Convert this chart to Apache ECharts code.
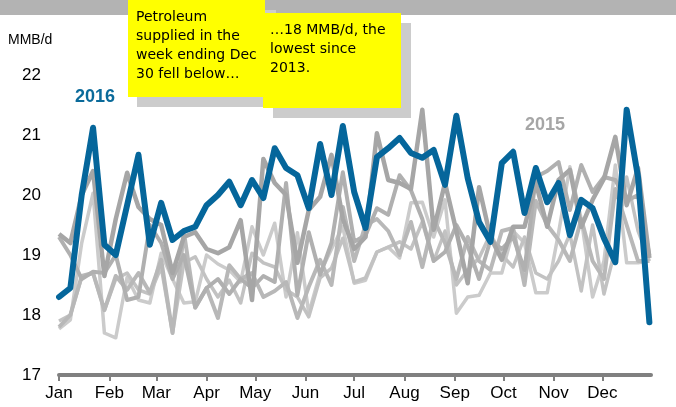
<!DOCTYPE html>
<html>
<head>
<meta charset="utf-8">
<script src="https://cdn.jsdelivr.net/npm/echarts@6/dist/echarts.min.js"></script>
<style>
html,body{margin:0;padding:0;background:#fff;}
#chart{width:676px;height:407px;}
</style>
</head>
<body>
<div id="chart"></div>
<script>
// Month tick labels and their first day-of-year
const monthNames = ['Jan','Feb','Mar','Apr','May','Jun','Jul','Aug','Sep','Oct','Nov','Dec'];
const monthStartDays = [0,31,60,91,121,152,182,213,244,274,305,335];
// weekly observations: day-of-year of each week-ending date (2016)
const weekDays = [0,7,14,21,28,35,42,49,56,63,70,77,84,91,98,105,112,119,126,133,140,147,154,161,168,175,182,189,196,203,210,217,224,231,238,245,252,259,266,273,280,287,294,301,308,315,322,329,336,343,350,357,364];

const y2016 = [18.3,18.45,20.0,21.12,19.17,19.0,19.83,20.67,19.17,19.87,19.25,19.4,19.47,19.83,20.0,20.22,19.83,20.25,19.95,20.78,20.45,20.33,19.78,20.85,20.0,21.15,20.05,19.45,20.63,20.78,20.95,20.7,20.62,20.75,20.17,21.32,20.28,19.55,19.22,20.53,20.72,19.7,20.45,19.88,20.2,19.33,19.92,19.78,19.28,18.88,21.42,20.3,17.88];
const y2015 = [19.35,19.2,20.0,20.4,18.65,19.6,20.37,19.8,19.6,19.5,18.7,19.3,19.38,19.1,19.03,19.13,19.58,18.25,20.6,20.2,20.0,18.87,19.75,19.97,20.67,19.6,19.1,19.3,21.03,20.25,20.2,20.1,21.42,19.42,20.2,19.4,18.53,20.13,19.3,18.92,19.47,19.47,20.2,19.47,20.25,20.42,19.47,19.92,20.27,20.97,19.83,20.45,18.95];
const y2014 = [19.3,19.0,18.6,18.72,18.7,19.0,18.25,18.3,19.5,19.2,18.6,19.0,18.13,18.45,18.6,18.35,18.6,18.45,18.65,18.55,20.2,18.33,19.38,18.67,19.2,20.38,19.22,19.33,19.78,19.67,20.33,20.08,19.6,18.9,19.05,19.5,19.15,18.6,19.25,19.1,19.3,18.75,20.3,20.4,20.55,19.75,20.5,20.05,20.3,20.25,19.9,20.0,19.0];
const y2013 = [17.8,18.0,18.65,18.7,18.08,18.65,18.42,18.7,18.37,18.92,17.7,19.38,18.12,18.45,17.95,18.83,18.6,18.7,18.3,18.4,18.55,17.95,18.47,18.92,18.5,19.8,18.9,19.5,19.6,19.4,19.0,19.55,18.8,19.6,19.2,18.6,19.3,18.9,18.75,19.4,19.45,18.5,19.9,19.5,19.25,18.9,19.6,18.9,18.6,20.1,19.5,18.9,18.9];
const y2012 = [17.9,18.0,18.63,18.7,18.08,18.6,18.7,18.42,18.35,18.8,17.7,18.87,18.97,18.6,18.3,18.58,18.2,19.03,18.87,18.8,18.42,18.3,17.97,18.62,18.78,19.28,18.55,18.62,19.05,19.13,19.22,19.1,19.55,18.9,19.4,18.5,18.75,18.95,19.35,19.0,18.8,19.3,18.7,18.6,18.9,19.35,18.4,19.5,18.35,19.1,20.3,19.4,18.9];
const y2011 = [17.77,17.92,19.2,20.03,17.7,17.62,18.63,18.25,18.2,19.03,18.6,18.2,18.22,19.0,18.85,18.75,18.55,19.47,19.0,19.53,18.3,19.37,18.03,18.7,19.1,19.47,18.53,18.58,19.05,19.13,18.95,19.87,19.88,19.3,19.92,18.03,18.3,18.33,18.7,18.7,19.4,19.2,18.37,18.37,19.37,20.47,19.6,18.3,18.9,20.5,18.87,18.87,18.9];

function pairs(arr){ return arr.map((v,i)=>[weekDays[i], v]); }

const chart = echarts.init(document.getElementById('chart'), null, {renderer:'canvas'});

const grayLine = (name, data, color, width) => ({
  name, type:'line', data: pairs(data), symbol:'none', smooth:false,
  lineStyle:{color, width, join:'round'}, z:2, silent:true
});

const option = {
  animation:false,
  backgroundColor:'#ffffff',
  grid:{left:59, right:25, top:75, bottom:32, containLabel:false},
  xAxis:{
    type:'value', min:0, max:365,
    splitLine:{show:false},
    axisLine:{show:true, lineStyle:{color:'#808080', width:4}},
    axisTick:{show:true, customValues:monthStartDays, length:6, lineStyle:{color:'#808080', width:2}},
    axisLabel:{customValues:monthStartDays, color:'#000', fontSize:17, fontFamily:'Liberation Sans, Arial, sans-serif', margin:10,
      formatter:(v)=>{const k=monthStartDays.indexOf(Math.round(v)); return k>=0?monthNames[k]:'';}}
  },
  yAxis:{
    type:'value', min:17, max:22, interval:1,
    splitLine:{show:false},
    axisLine:{show:false}, axisTick:{show:false},
    axisLabel:{color:'#000', fontSize:17, fontFamily:'Liberation Sans, Arial, sans-serif', margin:18}
  },
  series:[
    grayLine('2011', y2011, '#cbcbcb', 3.5),
    grayLine('2012', y2012, '#c2c2c2', 3.5),
    grayLine('2013', y2013, '#b8b8b8', 4),
    grayLine('2014', y2014, '#b0b0b0', 4),
    grayLine('2015', y2015, '#a6a6a6', 4.5),
    {name:'2016', type:'line', data:pairs(y2016), symbol:'none', lineStyle:{color:'#05669b', width:6, join:'round', cap:'round'}, z:5, silent:true}
  ],
  graphic:[
    {type:'rect', left:0, top:0, shape:{width:676, height:15}, style:{fill:'#b3b3b3'}, z:10},
    {type:'rect', left:137, top:10, shape:{width:139, height:97}, style:{fill:'#cccccc'}, z:11},
    {type:'rect', left:128, top:0, shape:{width:137, height:97}, style:{fill:'#ffff00'}, z:12},
    {type:'rect', left:273, top:23, shape:{width:138, height:95}, style:{fill:'#cccccc'}, z:13},
    {type:'rect', left:263, top:13, shape:{width:138, height:95}, style:{fill:'#ffff00'}, z:14},
    {type:'text', left:136, top:8, z:15, style:{text:'Petroleum\nsupplied in the\nweek ending Dec\n30 fell below…', fill:'#000', font:'14px "DejaVu Sans"', lineHeight:19}},
    {type:'text', left:270, top:21, z:15, style:{text:'…18 MMB/d, the\nlowest since\n2013.', fill:'#000', font:'14px "DejaVu Sans"', lineHeight:19}},
    {type:'text', left:8, top:33, z:15, style:{text:'MMB/d', fill:'#000', font:'14px "Liberation Sans", Arial, sans-serif'}},
    {type:'text', left:75, top:88, z:15, style:{text:'2016', fill:'#0a6a9a', font:'bold 18px "Liberation Sans", Arial, sans-serif'}},
    {type:'text', left:525, top:116, z:15, style:{text:'2015', fill:'#a6a6a6', font:'bold 18px "Liberation Sans", Arial, sans-serif'}}
  ]
};
chart.setOption(option);
</script>
</body>
</html>
